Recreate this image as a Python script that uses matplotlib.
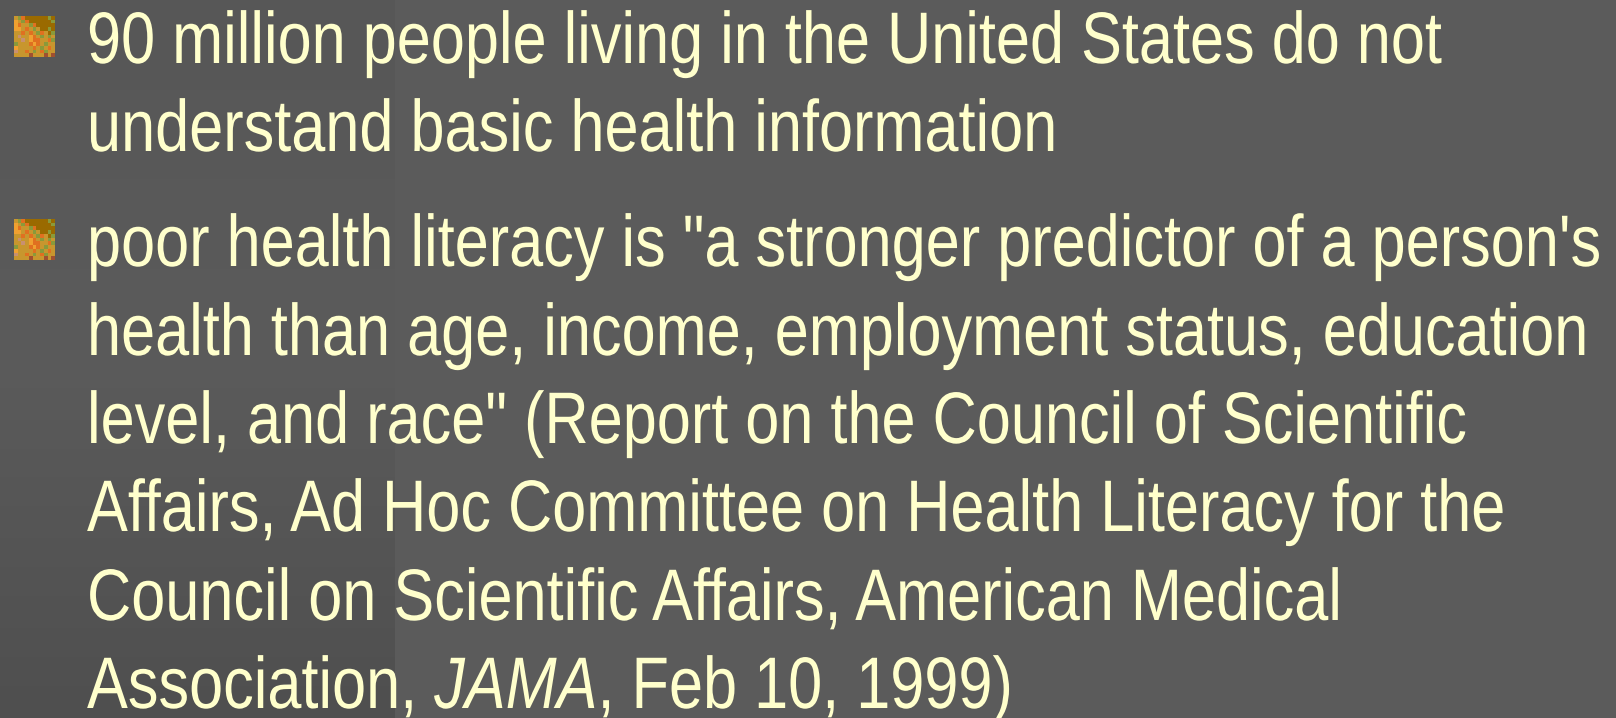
import numpy as np
import matplotlib
matplotlib.use("Agg")
from matplotlib import pyplot as plt
from matplotlib.colors import to_rgb
from matplotlib.textpath import TextPath
from matplotlib.patches import PathPatch
from matplotlib.font_manager import FontProperties
from matplotlib.transforms import Affine2D

W, H = 1616, 718

# slide text, one entry per line: (bullet?, segments of (text, style))
lines = [
    (True, [("90 million people living in the United States do not", "normal")]),
    (False, [("understand basic health information", "normal")]),
    (True, [("poor health literacy is \"a stronger predictor of a person's", "normal")]),
    (False, [("health than age, income, employment status, education", "normal")]),
    (False, [("level, and race\" (Report on the Council of Scientific", "normal")]),
    (False, [("Affairs, Ad Hoc Committee on Health Literacy for the", "normal")]),
    (False, [("Council on Scientific Affairs, American Medical", "normal")]),
    (False, [("Association, ", "normal"), ("JAMA", "italic"), (", Feb 10, 1999)", "normal")]),
]
baselines = [63, 151, 266, 355, 443, 531, 620, 708]

# bullet icon pattern
palette = {
    "o": "#c8962e", "d": "#9a6a00", "r": "#e07020", "g": "#8a9a3a",
    "y": "#f0a030", "p": "#c89070", "b": "#a05030",
}
icon_rows = [
    "ogrddddddgd",
    "yogrddddddg",
    "yroogrddddd",
    "yyorogoddgd",
    "oororogrodg",
    "opooyrogogo",
    "oopoyrroorg",
    "goooryrogoo",
    "yoooorogoro",
    "poorogorgoo",
    "oooobooobob",
]

text_color = "#ffffcc"
fonts = {
    "normal": FontProperties(family="Liberation Sans"),
    "italic": FontProperties(family="Liberation Sans", style="italic"),
}
em = 73          # font size in pixels
x0 = 87          # left edge of the text column
ref_width = 1508  # width of the longest line (line 3) in the slide

fig = plt.figure(figsize=(W / 100, H / 100), dpi=100)
ax = fig.add_axes([0, 0, 1, 1])
ax.set_xlim(0, W)
ax.set_ylim(H, 0)
ax.axis("off")

# background: plain right side, shaded strip on the left
ax.add_patch(plt.Rectangle((0, 0), W, H, color="#5b5b5b", zorder=0))
top, mid, bot = np.array(to_rgb("#575757")), np.array(to_rgb("#5b5b5b")), np.array(to_rgb("#4f4f4f"))
t = np.linspace(0, 1, 200)[:, None]
grad = np.where(t < 0.5, top + (mid - top) * (t / 0.5), mid + (bot - mid) * ((t - 0.5) / 0.5))
ax.imshow(grad[:, None, :], extent=(0, 395, H, 0), aspect="auto", zorder=1)

icon = np.array([[to_rgb(palette[c]) for c in row] for row in icon_rows])


def seg_width(txt, style):
    # advance width incl. trailing spaces
    p = TextPath((0, 0), txt + "|", size=em, prop=fonts[style])
    bar = TextPath((0, 0), "|", size=em, prop=fonts[style])
    return p.get_extents().x1 - (bar.get_extents().x1 - bar.get_extents().x0) - bar.get_extents().x0


# narrow face: squeeze the regular face horizontally
sx = ref_width / TextPath((0, 0), lines[2][1][0][0], size=em, prop=fonts["normal"]).get_extents().width

for (bullet, segs), yb in zip(lines, baselines):
    if bullet:
        ax.imshow(icon, extent=(14, 55, yb - 6, yb - 47), interpolation="nearest", zorder=2)
    x = x0
    for txt, style in segs:
        path = TextPath((0, 0), txt, size=em, prop=fonts[style])
        tr = Affine2D().scale(sx, -1).translate(x, yb) + ax.transData
        ax.add_patch(PathPatch(path, transform=tr, facecolor=text_color,
                               edgecolor="none", zorder=3))
        x += seg_width(txt, style) * sx

ax.set_xlim(0, W)
ax.set_ylim(H, 0)
fig.savefig("out.png", dpi=100)
